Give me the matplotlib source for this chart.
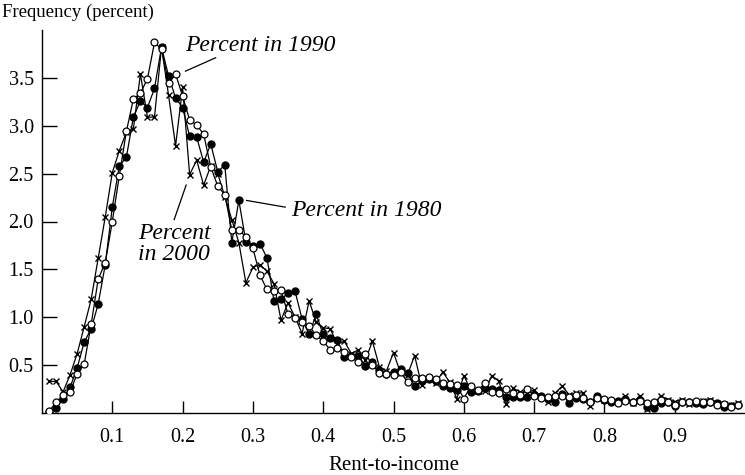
import matplotlib
matplotlib.use("Agg")
import matplotlib.pyplot as plt
import numpy as np

plt.rcParams['font.family'] = ['Liberation Serif', 'DejaVu Serif']

# Rent-to-income bins (0.01 .. 0.99)
rent_to_income = [round(0.01 * i, 2) for i in range(1, 100)]

pct_1980 = [0.01, 0.05, 0.15, 0.27, 0.47, 0.74, 0.88, 1.14, 1.55, 2.15,
            2.58, 2.67, 3.09, 3.26, 3.19, 3.39, 3.82, 3.52, 3.29, 3.19,
            2.89, 2.88, 2.62, 2.81, 2.52, 2.59, 1.78, 2.22, 1.79, 1.74,
            1.77, 1.62, 1.17, 1.19, 1.25, 1.27, 0.98, 0.82, 1.03, 0.82,
            0.78, 0.76, 0.59, 0.60, 0.60, 0.49, 0.53, 0.45, 0.41, 0.43,
            0.46, 0.42, 0.28, 0.33, 0.35, 0.33, 0.28, 0.26, 0.24, 0.28,
            0.22, 0.23, 0.26, 0.25, 0.24, 0.17, 0.17, 0.17, 0.17, 0.19,
            0.18, 0.15, 0.12, 0.20, 0.10, 0.16, 0.15, 0.12, 0.18, 0.14,
            0.12, 0.13, 0.15, 0.12, 0.14, 0.06, 0.05, 0.10, 0.11, 0.07,
            0.11, 0.12, 0.10, 0.09, 0.11, 0.10, 0.06, 0.07, 0.08]

pct_1990 = [0.02, 0.11, 0.19, 0.22, 0.41, 0.51, 0.93, 1.40, 1.57, 2.00,
            2.48, 2.94, 3.28, 3.34, 3.49, 3.87, 3.80, 3.45, 3.54, 3.31,
            3.06, 3.01, 2.91, 2.57, 2.37, 2.28, 1.91, 1.91, 1.84, 1.72,
            1.44, 1.29, 1.27, 1.28, 1.03, 0.99, 0.95, 0.91, 0.81, 0.75,
            0.66, 0.68, 0.64, 0.58, 0.53, 0.62, 0.50, 0.42, 0.41, 0.40,
            0.43, 0.32, 0.37, 0.37, 0.38, 0.36, 0.31, 0.30, 0.29, 0.15,
            0.28, 0.24, 0.31, 0.22, 0.21, 0.25, 0.21, 0.19, 0.25, 0.18,
            0.16, 0.17, 0.18, 0.18, 0.17, 0.19, 0.16, 0.12, 0.16, 0.15,
            0.14, 0.10, 0.13, 0.12, 0.13, 0.10, 0.12, 0.14, 0.12, 0.08,
            0.12, 0.11, 0.13, 0.11, 0.12, 0.08, 0.09, 0.06, 0.08]

pct_2000 = [0.33, 0.33, 0.22, 0.40, 0.62, 0.90, 1.19, 1.62, 2.05, 2.51,
            2.74, 2.93, 2.97, 3.54, 3.09, 3.09, 3.82, 3.32, 2.79, 3.40,
            2.49, 2.64, 2.38, 2.58, 2.50, 2.26, 2.02, 1.78, 1.36, 1.52,
            1.55, 1.48, 1.35, 0.97, 1.15, 1.00, 0.83, 1.17, 0.95, 0.89,
            0.88, 0.72, 0.75, 0.62, 0.66, 0.55, 0.75, 0.48, 0.44, 0.63,
            0.42, 0.40, 0.60, 0.29, 0.36, 0.31, 0.43, 0.32, 0.15, 0.39,
            0.24, 0.23, 0.23, 0.39, 0.33, 0.09, 0.26, 0.22, 0.21, 0.24,
            0.17, 0.12, 0.21, 0.28, 0.19, 0.21, 0.21, 0.07, 0.16, 0.14,
            0.13, 0.12, 0.18, 0.10, 0.18, 0.04, 0.09, 0.18, 0.14, 0.12,
            0.14, 0.09, 0.10, 0.13, 0.14, 0.10, 0.09, 0.08, 0.10]

x_ticks = [0.1, 0.2, 0.3, 0.4, 0.5, 0.6, 0.7, 0.8, 0.9]
y_ticks = [0.5, 1.0, 1.5, 2.0, 2.5, 3.0, 3.5]

fig = plt.figure(figsize=(7.45, 4.75), dpi=100)
ax = fig.add_axes([42 / 745, 62 / 475, 703 / 745, 383 / 475])

ax.plot(rent_to_income, pct_2000, color='black', lw=0.9, marker='x',
        ms=5, mew=1.0, zorder=3)
ax.plot(rent_to_income, pct_1980, color='black', lw=0.9, marker='o',
        ms=5, mfc='black', mec='black', zorder=4)
ax.plot(rent_to_income, pct_1990, color='black', lw=0.9, marker='o',
        ms=5, mfc='white', mec='black', mew=0.9, zorder=5)

ax.set_xlim(0, 1.0)
ax.set_ylim(0, 4.0)
ax.set_xticks(x_ticks)
ax.set_xticklabels([f"{v:.1f}" for v in x_ticks])
ax.set_yticks(y_ticks)
ax.set_yticklabels([f"{v:.1f}" for v in y_ticks])
ax.tick_params(axis='both', direction='in', labelsize=14.5, width=1.0,
               color='black')
ax.tick_params(axis='y', length=11, pad=6)
ax.tick_params(axis='x', length=9, pad=11)
for s in ['top', 'right']:
    ax.spines[s].set_visible(False)
for s in ['left', 'bottom']:
    ax.spines[s].set_linewidth(1.0)

fig.text(2 / 745, 1 - 12 / 475, "Frequency (percent)", fontsize=13.5,
         ha='left', va='center')
ax.set_xlabel("Rent-to-income", fontsize=15, labelpad=6)

# Annotations
ax.text(0.204, 3.84, "Percent in 1990", fontsize=17, style='italic',
        ha='left', va='center')
ax.plot([0.204, 0.247], [3.57, 3.71], color='black', lw=0.9)

ax.text(0.354, 2.11, "Percent in 1980", fontsize=17, style='italic',
        ha='left', va='center')
ax.plot([0.291, 0.346], [2.22, 2.15], color='black', lw=0.9)

ax.text(0.188, 1.77, "Percent\nin 2000", fontsize=17, style='italic',
        ha='center', va='center', linespacing=1.0)
ax.plot([0.188, 0.205], [2.02, 2.38], color='black', lw=0.9)

fig.savefig("out.png", dpi=100)
